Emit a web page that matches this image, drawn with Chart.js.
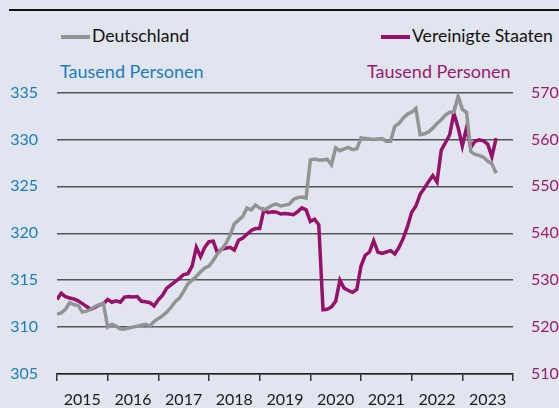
<!DOCTYPE html>
<html>
<head>
<meta charset="utf-8">
<script src="https://cdn.jsdelivr.net/npm/chart.js@4.4.0/dist/chart.umd.min.js"></script>
<style>
  html, body { margin: 0; padding: 0; }
  body { width: 559px; height: 408px; background: #e1e5ef; position: relative; overflow: hidden;
         font-family: Lato, "Open Sans", sans-serif; }
  #chart { position: absolute; left: 0; top: 0; }
  .rule { position: absolute; left: 9px; right: 0; top: 9px; height: 2px; background: #111; }
  .leg { position: absolute; top: 25px; font-size: 17.6px; line-height: 22px; color: #111; white-space: nowrap; }
  .leg i { display: inline-block; width: 29px; height: 4px; vertical-align: middle; margin-right: 2px; position: relative; top: -1px; }
  .unit { position: absolute; top: 60px; font-size: 18px; line-height: 22px; white-space: nowrap; }
</style>
</head>
<body>
<div class="rule"></div>
<div class="leg" style="left:61px"><i style="background:#939393"></i>Deutschland</div>
<div class="leg" style="left:381px"><i style="background:#960f69"></i>Vereinigte Staaten</div>
<div class="unit" style="left:60px;color:#1b7cc0">Tausend Personen</div>
<div class="unit" style="left:367px;color:#9c1a6d">Tausend Personen</div>
<canvas id="chart" width="559" height="408"></canvas>
<script>
// monthly values, Jan 2015 .. Sep 2023
var startYear = 2015;
var years = [2015, 2016, 2017, 2018, 2019, 2020, 2021, 2022, 2023];

var deutschland = [
  311.4, 311.5, 311.9, 312.6, 312.4, 312.3, 311.6, 311.7, 311.9, 312.2, 312.4, 312.5,
  310.0, 310.3, 310.1, 309.8, 309.8, 309.9, 310.0, 310.1, 310.2, 310.3, 310.1, 310.6,
  310.9, 311.2, 311.6, 312.1, 312.7, 313.1, 313.8, 314.6, 315.0, 315.4, 315.9, 316.3,
  316.5, 317.1, 317.8, 318.3, 318.9, 319.8, 321.0, 321.4, 321.8, 322.7, 322.5, 323.0,
  322.7, 322.5, 322.7, 323.0, 323.1, 322.9, 323.0, 323.1, 323.6, 323.8, 323.85, 323.75,
  327.8, 327.9, 327.8, 327.8, 327.9, 327.3, 329.1, 328.8, 329.0, 329.15, 328.9, 329.0,
  330.15, 330.1, 330.05, 330.0, 330.05, 330.1, 329.8, 329.8, 331.4, 331.7, 332.3, 332.7,
  332.9, 333.3, 330.5, 330.6, 330.8, 331.2, 331.7, 332.1, 332.6, 332.9, 332.9, 334.6,
  333.2, 332.9, 328.7, 328.4, 328.3, 328.1, 327.7, 327.4, 326.4
];

var vereinigteStaaten = [
  525.9, 527.2, 526.5, 526.2, 526.0, 525.6, 525.0, 524.4, 523.8, 524.2, 524.7, 525.0,
  525.9, 525.3, 525.6, 525.3, 526.4, 526.5, 526.4, 526.5, 525.5, 525.4, 525.2, 524.5,
  525.8, 526.8, 528.3, 529.0, 529.7, 530.4, 531.2, 531.4, 533.0, 537.0, 535.0, 537.0,
  538.2, 538.3, 535.8, 536.6, 536.8, 537.0, 536.4, 538.5, 539.0, 539.8, 540.6, 541.0,
  541.0, 545.0, 544.4, 544.6, 544.5, 544.1, 544.2, 544.1, 543.95, 544.6, 545.4, 545.0,
  542.5, 543.0, 541.8, 523.7, 523.8, 524.3, 525.5, 530.0, 528.3, 527.8, 527.4, 528.0,
  533.0, 535.3, 536.0, 538.4, 536.0, 535.7, 536.0, 536.3, 535.6, 537.0, 538.9, 541.4,
  544.5, 545.8, 548.3, 549.6, 551.0, 552.3, 550.9, 557.7, 559.3, 561.0, 565.6, 562.5,
  558.6, 562.5, 558.3, 559.6, 559.9, 559.7, 559.0, 556.3, 560.3
];

function toPoints(arr) {
  return arr.map(function (v, i) { return { x: startYear + i / 12, y: v }; });
}

var tickFont = { family: 'Lato, "Open Sans", sans-serif', size: 16 };

new Chart(document.getElementById('chart').getContext('2d'), {
  type: 'line',
  data: {
    datasets: [
      {
        label: 'Deutschland',
        data: toPoints(deutschland),
        yAxisID: 'y',
        borderColor: '#939393',
        borderWidth: 3.5,
        pointRadius: 0,
        tension: 0
      },
      {
        label: 'Vereinigte Staaten',
        data: toPoints(vereinigteStaaten),
        yAxisID: 'y2',
        borderColor: '#960f69',
        borderWidth: 3.5,
        pointRadius: 0,
        tension: 0
      }
    ]
  },
  options: {
    responsive: false,
    animation: false,
    devicePixelRatio: 1,
    layout: { padding: { top: 92.5, left: 0, right: 0, bottom: 0 } },
    plugins: { legend: { display: false }, tooltip: { enabled: false } },
    scales: {
      x: {
        type: 'linear',
        min: startYear,
        max: years[years.length - 1] + 1,
        grid: { drawOnChartArea: false, drawTicks: true, tickLength: 7, color: '#333', lineWidth: 1.5 },
        border: { display: true, color: '#222', width: 1.5 },
        ticks: {
          stepSize: 1,
          autoSkip: false,
          maxRotation: 0,
          labelOffset: 25.3,
          padding: 9,
          color: '#1a1a1a',
          font: tickFont,
          callback: function (v) { return years.indexOf(v) >= 0 ? String(v) : ''; }
        },
        afterFit: function (s) { s.height = 34; }
      },
      y: {
        position: 'left',
        min: 305,
        max: 335,
        grid: { color: '#555', lineWidth: 1.5, drawTicks: false },
        border: { display: false },
        ticks: { stepSize: 5, padding: 19, color: '#1b7cc0', font: tickFont },
        afterFit: function (s) { s.width = 57; }
      },
      y2: {
        position: 'right',
        min: 510,
        max: 570,
        grid: { drawOnChartArea: false, drawTicks: false },
        border: { display: false },
        ticks: { stepSize: 10, padding: 18, color: '#9c1a6d', font: tickFont },
        afterFit: function (s) { s.width = 46; }
      }
    }
  }
});
</script>
</body>
</html>
